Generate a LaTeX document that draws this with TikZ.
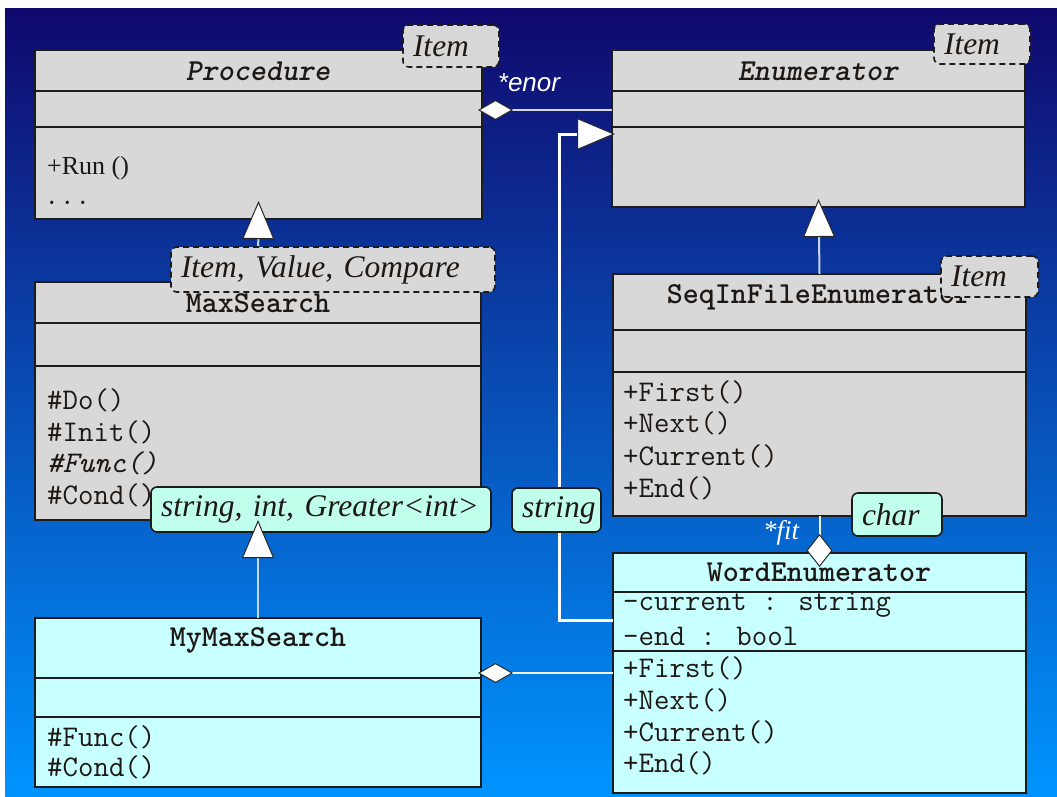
\documentclass[tikz,border=0pt]{standalone}
\usepackage{fontspec}
\setmainfont{Liberation Serif}
\newfontfamily\rolefont{Liberation Sans}
\usetikzlibrary{arrows.meta,calc}
\definecolor{bgtop}{RGB}{16,8,108}
\definecolor{bgmid}{RGB}{16,86,172}
\definecolor{bgbot}{RGB}{0,148,255}
\definecolor{clsgray}{RGB}{216,216,216}
\definecolor{clscyan}{RGB}{200,255,255}
\definecolor{tagcyan}{RGB}{192,255,236}
\definecolor{boxline}{RGB}{28,28,28}
\definecolor{txt}{RGB}{30,24,20}
\definecolor{tipline}{RGB}{40,40,40}
\definecolor{assoccol}{RGB}{214,214,220}
\definecolor{gencol}{RGB}{196,214,240}
\definecolor{aggcol}{RGB}{240,240,222}
\tikzset{
  gentip/.tip={Triangle[length=38pt,width=32pt,fill=white,color=tipline,line width=1pt]},
  aggtip/.tip={Diamond[length=35pt,width=20pt,fill=white,color=tipline,line width=1pt]},
  aggvtip/.tip={Diamond[length=33pt,width=26pt,fill=white,color=tipline,line width=1pt]},
}
\begin{document}
\begin{tikzpicture}[x=1pt,y=-1pt,
  classbox/.style={draw=boxline,line width=1.8pt,anchor=north west,inner sep=0pt,outer sep=0pt,rectangle},
  divider/.style={draw=boxline,line width=1.8pt},
  cname/.style={font=\ttfamily\bfseries\fontsize{30.5}{31}\selectfont,text=txt,inner sep=0pt},
  member/.style={font=\ttfamily\fontsize{30}{31}\selectfont,text=txt,anchor=west,inner sep=0pt},
  tagbase/.style={anchor=north west,rounded corners=6pt,line width=1.6pt,draw=boxline,inner xsep=10pt,inner ysep=0pt,outer sep=0pt,align=left,font=\itshape\fontsize{31.5}{31.5}\selectfont,text=txt},
  dashtag/.style={tagbase,fill=clsgray,dash pattern=on 6pt off 4pt},
  solidtag/.style={tagbase,fill=tagcyan},
  rolelabel/.style={font=\rolefont\itshape\fontsize{26}{26}\selectfont,text=white,inner sep=0pt},
  assocline/.style={draw=assoccol,line width=2pt},
  genline/.style={draw=gencol,line width=2pt},
  whiteline/.style={draw=white,line width=3pt},
  aggline/.style={draw=aggcol,line width=2pt},
]
\useasboundingbox (0,0) rectangle (1057,796);
\fill[white] (0,0) rectangle (1057,796);
\shade[top color=bgtop,middle color=bgmid,bottom color=bgbot] (5,8) rectangle (1057,796);

% ---------- classes ----------
\node[classbox,fill=clsgray,minimum width=447pt,minimum height=169pt] (proc) at (35,50) {};
\draw[divider] ($(proc.north west)+(0,41)$) -- ($(proc.north east)+(0,41)$);
\draw[divider] ($(proc.north west)+(0,77)$) -- ($(proc.north east)+(0,77)$);
\node[cname] (procn) at (258,71) {\itshape Procedure};
\node[member,font=\rmfamily\fontsize{26}{27}\selectfont] (procm1) at (47,168) {+Run ()};
\node[member] (procm2) at (44,203) {...};

\node[classbox,fill=clsgray,minimum width=413pt,minimum height=157pt] (enum) at (612,50) {};
\draw[divider] ($(enum.north west)+(0,41)$) -- ($(enum.north east)+(0,41)$);
\draw[divider] ($(enum.north west)+(0,77)$) -- ($(enum.north east)+(0,77)$);
\node[cname] (enumn) at (818,71) {\itshape Enumerator};

\node[classbox,fill=clsgray,minimum width=446pt,minimum height=238pt] (maxs) at (35,282) {};
\draw[divider] ($(maxs.north west)+(0,41)$) -- ($(maxs.north east)+(0,41)$);
\draw[divider] ($(maxs.north west)+(0,84)$) -- ($(maxs.north east)+(0,84)$);
\node[cname] (maxsn) at (258,303) {MaxSearch};
\node[member] (maxsm1) at (47,400) {\#Do()};
\node[member] (maxsm2) at (47,432) {\#Init()};
\node[member] (maxsm3) at (47,463) {\itshape\#Func()};
\node[member] (maxsm4) at (47,495) {\#Cond()};

\node[classbox,fill=clsgray,minimum width=413pt,minimum height=242pt] (seq) at (613,274) {};
\draw[divider] ($(seq.north west)+(0,56)$) -- ($(seq.north east)+(0,56)$);
\draw[divider] ($(seq.north west)+(0,98)$) -- ($(seq.north east)+(0,98)$);
\node[cname] (seqn) at (819,297) {SeqInFileEnumerator};
\node[member] (seqm1) at (623,392) {+First()};
\node[member] (seqm2) at (623,423) {+Next()};
\node[member] (seqm3) at (623,456) {+Current()};
\node[member] (seqm4) at (623,488) {+End()};

\node[classbox,fill=clscyan,minimum width=446pt,minimum height=169pt] (mymax) at (35,618) {};
\draw[divider] ($(mymax.north west)+(0,60)$) -- ($(mymax.north east)+(0,60)$);
\draw[divider] ($(mymax.north west)+(0,99)$) -- ($(mymax.north east)+(0,99)$);
\node[cname] (mymaxn) at (258,640) {MyMaxSearch};
\node[member] (mymaxm1) at (47,737) {\#Func()};
\node[member] (mymaxm2) at (47,767) {\#Cond()};

\node[classbox,fill=clscyan,minimum width=413pt,minimum height=240pt] (word) at (613,553) {};
\draw[divider] ($(word.north west)+(0,39)$) -- ($(word.north east)+(0,39)$);
\draw[divider] ($(word.north west)+(0,98)$) -- ($(word.north east)+(0,98)$);
\node[cname] (wordn) at (819,572) {WordEnumerator};
\node[member] (worda1) at (623,605) {-current : string};
\node[member] (worda2) at (623,636) {-end : bool};
\node[member] (wordm1) at (623,668) {+First()};
\node[member] (wordm2) at (623,700) {+Next()};
\node[member] (wordm3) at (623,732) {+Current()};
\node[member] (wordm4) at (623,763) {+End()};

% ---------- connectors ----------
\coordinate (procR) at (478,110);
\coordinate (enumL) at (612,110);
\draw[assocline,aggtip-] (procR) -- (enumL);
\node[rolelabel] (enorlbl) at (529,83) {*enor};

\coordinate (procTip) at ($(proc.south)+(0,-18)$);
\draw[genline,-gentip] (maxs.north) -- (procTip);

\coordinate (enumTip) at ($(enum.south)+(0,-8)$);
\draw[genline,-gentip] (seq.north) -- (enumTip);

\coordinate (wordL) at (613,620);
\coordinate (enumTipL) at (615,134);
\draw[whiteline,-gentip] (wordL) -- ++(-54,0) |- (enumTipL);

\coordinate (mymaxR) at (478,673);
\coordinate (wordL2) at (613,673);
\draw[aggline,aggtip-] (mymaxR) -- (wordL2);

\coordinate (fitTip) at ($(seq.south)+(0,51)$);
\draw[aggline,-aggvtip] (seq.south) -- (fitTip);
\node[rolelabel,font=\itshape\fontsize{27}{27}\selectfont] (fitlbl) at (781,533) {*fit};

% ---------- template tags ----------
\node[dashtag,text width=76pt,minimum height=42pt] (procitem) at (403,25) {Item};
\node[dashtag,text width=76pt,minimum height=40pt] (enumitem) at (934,24) {Item};
\node[dashtag,text width=77pt,minimum height=41pt] (seqitem) at (941,256) {Item};
\node[dashtag,text width=304pt,minimum height=45pt] (maxsparams) at (171,247) {Item, Value, Compare};
\node[solidtag,text width=320pt,minimum height=45pt] (mymaxbind) at (151,487) {string, int, Greater<int>};
\node[solidtag,text width=69pt,minimum height=44pt] (strbind) at (512,488) {string};
\node[solidtag,text width=70pt,minimum height=43pt] (charbind) at (852,493) {char};

\draw[genline,-gentip] (mymax.north) -- (maxs.south);
\end{tikzpicture}
\end{document}
